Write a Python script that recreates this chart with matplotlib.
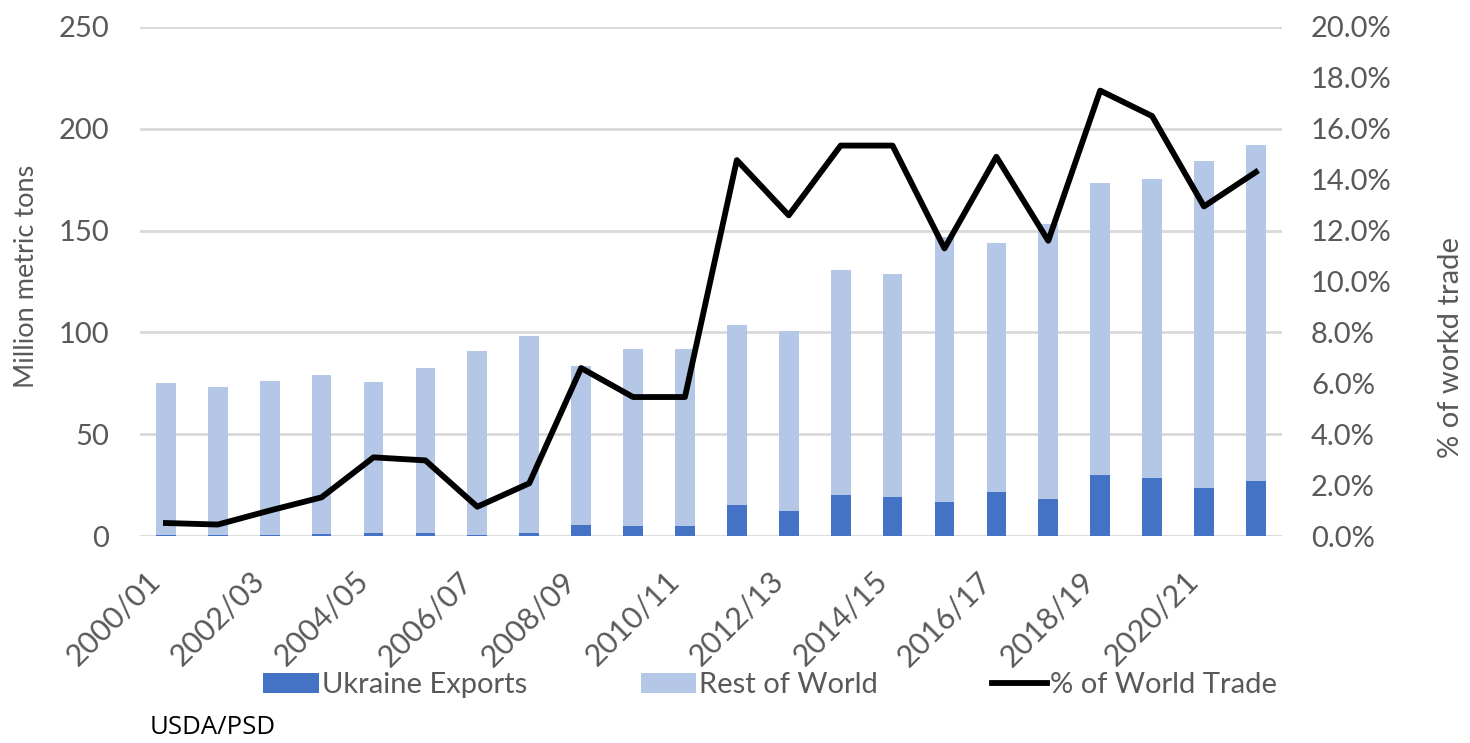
import numpy as np
import matplotlib.pyplot as plt
from matplotlib.ticker import FuncFormatter

plt.rcParams['font.family'] = ['Lato', 'DejaVu Sans']

seasons = ["2000/01", "2001/02", "2002/03", "2003/04", "2004/05", "2005/06",
           "2006/07", "2007/08", "2008/09", "2009/10", "2010/11", "2011/12",
           "2012/13", "2013/14", "2014/15", "2015/16", "2016/17", "2017/18",
           "2018/19", "2019/20", "2020/21", "2021/22"]
total = [75, 73, 76, 79, 75.5, 82.5, 91, 98, 83.5, 92, 92, 103.5,
         100.5, 130.5, 128.5, 147, 144, 153, 173.5, 175.5, 184, 192]
ukraine = [0.4, 0.3, 0.4, 1.0, 1.6, 1.6, 0.3, 1.6, 5.4, 4.8, 4.8, 15.1,
           12.3, 20.0, 19.3, 16.5, 21.5, 18.0, 29.8, 28.3, 23.4, 27.0]
pct_world = [0.51, 0.45, 1.0, 1.52, 3.09, 2.97, 1.15, 2.07, 6.6, 5.46, 5.46, 14.77,
             12.6, 15.34, 15.34, 11.3, 14.9, 11.6, 17.5, 16.5, 12.95, 14.3]

rest = [t - u for t, u in zip(total, ukraine)]
pct = [p / 100 for p in pct_world]

dark = "#4472c4"
light = "#b4c7e7"
txt = "#595959"

fig = plt.figure(figsize=(14.7, 7.43), dpi=100)
ax = fig.add_axes([0.0952, 0.2786, 0.7768, 0.6851])
x = np.arange(len(seasons))

b1 = ax.bar(x, ukraine, width=0.38, color=dark, label="Ukraine Exports", zorder=2)
b2 = ax.bar(x, rest, width=0.38, bottom=ukraine, color=light, label="Rest of World", zorder=2)

ax.set_ylim(0, 250)
ax.set_yticks(range(0, 251, 50))
ax.set_xlim(-0.5, len(seasons) - 0.5)
ax.grid(axis="y", color="#d9d9d9", linewidth=2, zorder=0)
ax.set_axisbelow(True)
for s in ax.spines.values():
    s.set_visible(False)
ax.tick_params(axis="y", length=0, labelsize=21, colors=txt, pad=22)
ax.tick_params(axis="x", length=0, labelsize=22, colors=txt, pad=22)
ax.set_xticks(x[::2])
ax.set_xticklabels(seasons[::2], rotation=45, ha="right", va="top")
ax.set_ylabel("Million metric tons", fontsize=19.5, color=txt)
ax.yaxis.set_label_coords(-0.088, 0.51)

ax2 = ax.twinx()
ln, = ax2.plot(x, pct, color="black", linewidth=4.2, label="% of World Trade", zorder=3)
ax2.set_ylim(0, 0.2)
ax2.set_yticks(np.arange(0, 0.201, 0.02))
ax2.yaxis.set_major_formatter(FuncFormatter(lambda v, p: f"{v*100:.1f}%"))
for s in ax2.spines.values():
    s.set_visible(False)
ax2.tick_params(axis="y", length=0, labelsize=21, colors=txt, pad=21)
ax2.set_ylabel("% of workd trade", fontsize=21, color=txt)
ax2.yaxis.set_label_coords(1.137, 0.37)

leg = fig.legend(handles=[b1, b2, ln], loc="center", bbox_to_anchor=(0.524, 0.078),
                 ncol=3, frameon=False, fontsize=21, handlelength=1.9,
                 handletextpad=0.1, columnspacing=3.9)
for t in leg.get_texts():
    t.set_color(txt)

fig.text(0.102, 0.0215, "USDA/PSD", fontsize=18.5, color="black", va="center",
         family=["Open Sans", "DejaVu Sans"])

fig.savefig("out.png", dpi=100)
